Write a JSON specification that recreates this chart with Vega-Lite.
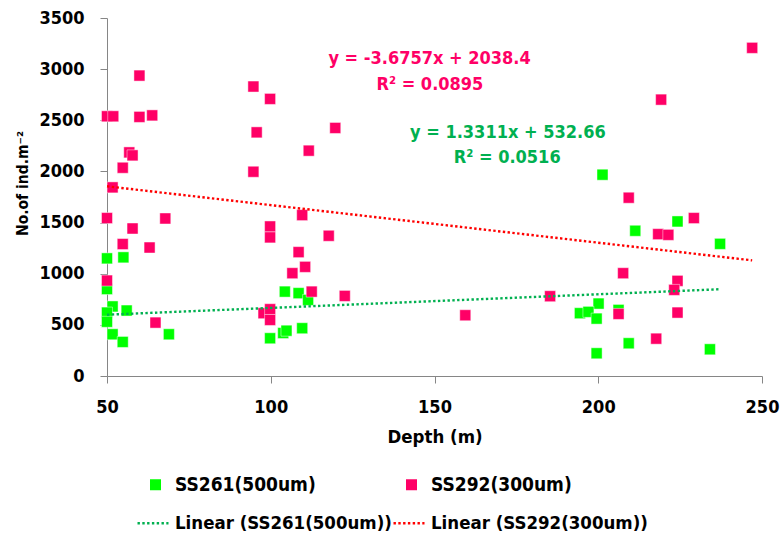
{
  "$schema": "https://vega.github.io/schema/vega-lite/v6.json",
  "width": 655,
  "height": 358,
  "autosize": {"type": "none"},
  "padding": {"left": 107, "top": 18, "right": 19, "bottom": 159},
  "background": "white",
  "config": {
    "view": {"stroke": null},
    "font": "DejaVu Sans Condensed",
    "axis": {
      "grid": false,
      "domainColor": "#868686",
      "tickColor": "#868686",
      "tickSize": 7,
      "labelFont": "DejaVu Sans Condensed",
      "labelFontWeight": "bold",
      "labelFontSize": 18,
      "labelColor": "#000000",
      "titleFont": "DejaVu Sans Condensed",
      "titleFontWeight": "bold",
      "titleColor": "#000000"
    },
    "legend": {
      "labelFont": "DejaVu Sans Condensed",
      "labelFontWeight": "bold",
      "labelFontSize": 19,
      "labelColor": "#000000",
      "labelLimit": 0,
      "labelBaseline": "middle",
      "padding": 0,
      "symbolLimit": 0
    }
  },
  "layer": [
    {
      "data": {
        "values": [
          {"series": "SS261(500um)", "depth": 50, "n": 1150},
          {"series": "SS261(500um)", "depth": 55, "n": 1160},
          {"series": "SS261(500um)", "depth": 50, "n": 850},
          {"series": "SS261(500um)", "depth": 51.7, "n": 680},
          {"series": "SS261(500um)", "depth": 50, "n": 620},
          {"series": "SS261(500um)", "depth": 56, "n": 640},
          {"series": "SS261(500um)", "depth": 50, "n": 530},
          {"series": "SS261(500um)", "depth": 51.7, "n": 408},
          {"series": "SS261(500um)", "depth": 54.8, "n": 333},
          {"series": "SS261(500um)", "depth": 68.9, "n": 408},
          {"series": "SS261(500um)", "depth": 99.8, "n": 369},
          {"series": "SS261(500um)", "depth": 103.8, "n": 420},
          {"series": "SS261(500um)", "depth": 104.8, "n": 443},
          {"series": "SS261(500um)", "depth": 104.3, "n": 825},
          {"series": "SS261(500um)", "depth": 108.5, "n": 810},
          {"series": "SS261(500um)", "depth": 111.4, "n": 744},
          {"series": "SS261(500um)", "depth": 109.6, "n": 467},
          {"series": "SS261(500um)", "depth": 201.3, "n": 1968},
          {"series": "SS261(500um)", "depth": 224.2, "n": 1511},
          {"series": "SS261(500um)", "depth": 211.3, "n": 1420},
          {"series": "SS261(500um)", "depth": 237.2, "n": 1292},
          {"series": "SS261(500um)", "depth": 200.1, "n": 708},
          {"series": "SS261(500um)", "depth": 194.4, "n": 614},
          {"series": "SS261(500um)", "depth": 197, "n": 627},
          {"series": "SS261(500um)", "depth": 199.5, "n": 561},
          {"series": "SS261(500um)", "depth": 206.2, "n": 646},
          {"series": "SS261(500um)", "depth": 209.3, "n": 320},
          {"series": "SS261(500um)", "depth": 199.5, "n": 222},
          {"series": "SS261(500um)", "depth": 234.1, "n": 261},
          {"series": "SS292(300um)", "depth": 59.9, "n": 2937},
          {"series": "SS292(300um)", "depth": 94.7, "n": 2830},
          {"series": "SS292(300um)", "depth": 99.8, "n": 2709},
          {"series": "SS292(300um)", "depth": 50, "n": 2539},
          {"series": "SS292(300um)", "depth": 51.9, "n": 2539},
          {"series": "SS292(300um)", "depth": 59.9, "n": 2533},
          {"series": "SS292(300um)", "depth": 63.8, "n": 2548},
          {"series": "SS292(300um)", "depth": 95.7, "n": 2382},
          {"series": "SS292(300um)", "depth": 56.8, "n": 2186},
          {"series": "SS292(300um)", "depth": 57.8, "n": 2157},
          {"series": "SS292(300um)", "depth": 54.8, "n": 2036},
          {"series": "SS292(300um)", "depth": 94.7, "n": 1997},
          {"series": "SS292(300um)", "depth": 51.7, "n": 1844},
          {"series": "SS292(300um)", "depth": 50, "n": 1544},
          {"series": "SS292(300um)", "depth": 57.8, "n": 1442},
          {"series": "SS292(300um)", "depth": 67.8, "n": 1540},
          {"series": "SS292(300um)", "depth": 54.8, "n": 1290},
          {"series": "SS292(300um)", "depth": 63, "n": 1256},
          {"series": "SS292(300um)", "depth": 64.8, "n": 522},
          {"series": "SS292(300um)", "depth": 50, "n": 933},
          {"series": "SS292(300um)", "depth": 119.7, "n": 2425},
          {"series": "SS292(300um)", "depth": 111.6, "n": 2203},
          {"series": "SS292(300um)", "depth": 109.6, "n": 1573},
          {"series": "SS292(300um)", "depth": 99.8, "n": 1462},
          {"series": "SS292(300um)", "depth": 99.8, "n": 1355},
          {"series": "SS292(300um)", "depth": 117.7, "n": 1371},
          {"series": "SS292(300um)", "depth": 108.5, "n": 1211},
          {"series": "SS292(300um)", "depth": 110.5, "n": 1067},
          {"series": "SS292(300um)", "depth": 106.6, "n": 1005},
          {"series": "SS292(300um)", "depth": 112.5, "n": 825},
          {"series": "SS292(300um)", "depth": 122.6, "n": 783},
          {"series": "SS292(300um)", "depth": 97.8, "n": 614},
          {"series": "SS292(300um)", "depth": 99.8, "n": 653},
          {"series": "SS292(300um)", "depth": 99.8, "n": 548},
          {"series": "SS292(300um)", "depth": 159.4, "n": 594},
          {"series": "SS292(300um)", "depth": 185.3, "n": 780},
          {"series": "SS292(300um)", "depth": 209.3, "n": 1743},
          {"series": "SS292(300um)", "depth": 229.2, "n": 1544},
          {"series": "SS292(300um)", "depth": 218.3, "n": 1387},
          {"series": "SS292(300um)", "depth": 221.4, "n": 1380},
          {"series": "SS292(300um)", "depth": 207.6, "n": 1005},
          {"series": "SS292(300um)", "depth": 224.2, "n": 930},
          {"series": "SS292(300um)", "depth": 223.2, "n": 842},
          {"series": "SS292(300um)", "depth": 224.2, "n": 620},
          {"series": "SS292(300um)", "depth": 206.2, "n": 607},
          {"series": "SS292(300um)", "depth": 217.7, "n": 365},
          {"series": "SS292(300um)", "depth": 219.2, "n": 2702},
          {"series": "SS292(300um)", "depth": 247, "n": 3208}
        ]
      },
      "mark": {"type": "point", "shape": "square", "filled": true, "size": 121, "opacity": 1, "stroke": "#ffffff", "strokeOpacity": 0.45, "strokeWidth": 1},
      "encoding": {
        "x": {
          "field": "depth", "type": "quantitative",
          "scale": {"domain": [50, 250], "nice": false, "zero": false},
          "axis": {"values": [50, 100, 150, 200, 250], "title": "Depth (m)", "titleFontSize": 18.5, "labelPadding": 15, "titlePadding": 11, "labelFlush": false}
        },
        "y": {
          "field": "n", "type": "quantitative",
          "scale": {"domain": [0, 3500], "nice": false},
          "axis": {"values": [0, 500, 1000, 1500, 2000, 2500, 3000, 3500], "format": "d", "title": "No.of ind.m⁻²", "titleFontSize": 15.5, "titleY": 165, "labelPadding": 16, "titlePadding": 8}
        },
        "color": {
          "field": "series", "type": "nominal",
          "scale": {"domain": ["SS261(500um)", "SS292(300um)"], "range": ["#00FF00", "#FF0066"]},
          "legend": {
            "title": null,
            "orient": "none",
            "direction": "horizontal",
            "legendX": 39,
            "legendY": 457,
            "columns": 2,
            "columnPadding": 86,
            "labelOffset": 10,
            "symbolType": "square",
            "symbolSize": 121,
            "symbolStrokeWidth": 0,
            "symbolOpacity": 1
          }
        }
      }
    },
    {
      "data": {
        "values": [
          {"trend": "Linear (SS261(500um))", "depth": 50, "n": 599.2},
          {"trend": "Linear (SS261(500um))", "depth": 237.2, "n": 848.4},
          {"trend": "Linear (SS292(300um))", "depth": 50, "n": 1854.6},
          {"trend": "Linear (SS292(300um))", "depth": 247, "n": 1130.5}
        ]
      },
      "mark": {"type": "line", "strokeDash": [2.4, 2.4], "strokeWidth": 2.4},
      "encoding": {
        "x": {"field": "depth", "type": "quantitative"},
        "y": {"field": "n", "type": "quantitative"},
        "stroke": {
          "field": "trend", "type": "nominal",
          "scale": {"domain": ["Linear (SS261(500um))", "Linear (SS292(300um))"], "range": ["#00B050", "#FF0000"]},
          "legend": {
            "title": null,
            "orient": "none",
            "direction": "horizontal",
            "legendX": 29,
            "legendY": 488,
            "columns": 2,
            "columnPadding": -14,
            "labelOffset": 5,
            "labelFontSize": 18.5,
            "symbolType": "stroke",
            "symbolSize": 961,
            "symbolDash": [2.4, 2.4],
            "symbolStrokeWidth": 2.4
          }
        }
      }
    },
    {
      "data": {
        "values": [
          {"depth": 148.5, "n": 3104, "label": "y = -3.6757x + 2038.4"},
          {"depth": 148.6, "n": 2849, "label": "R² = 0.0895"}
        ]
      },
      "mark": {"type": "text", "font": "DejaVu Sans Condensed", "fontWeight": "bold", "fontSize": 18, "align": "center", "baseline": "middle", "color": "#FF0066"},
      "encoding": {
        "x": {"field": "depth", "type": "quantitative"},
        "y": {"field": "n", "type": "quantitative"},
        "text": {"field": "label"}
      }
    },
    {
      "data": {
        "values": [
          {"depth": 172.4, "n": 2379, "label": "y = 1.3311x + 532.66"},
          {"depth": 172.2, "n": 2134, "label": "R² = 0.0516"}
        ]
      },
      "mark": {"type": "text", "font": "DejaVu Sans Condensed", "fontWeight": "bold", "fontSize": 18, "align": "center", "baseline": "middle", "color": "#00B050"},
      "encoding": {
        "x": {"field": "depth", "type": "quantitative"},
        "y": {"field": "n", "type": "quantitative"},
        "text": {"field": "label"}
      }
    }
  ]
}
